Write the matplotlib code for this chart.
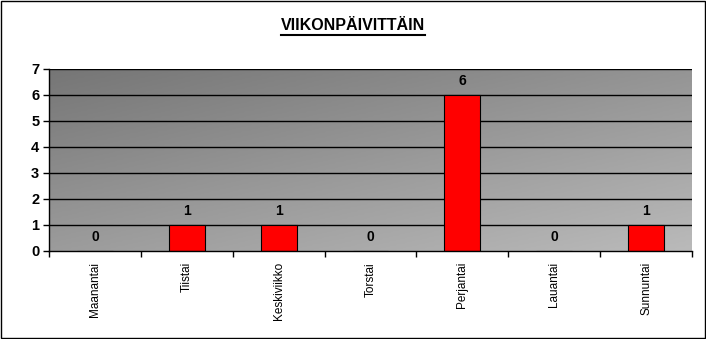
import matplotlib
matplotlib.use("Agg")
import matplotlib.pyplot as plt
import numpy as np
from matplotlib.patches import Rectangle

categories = ["Maanantai", "Tiistai", "Keskiviikko", "Torstai", "Perjantai", "Lauantai", "Sunnuntai"]
values = [0, 1, 1, 0, 6, 0, 1]
yticks = [0, 1, 2, 3, 4, 5, 6, 7]
title = "VIIKONPÄIVITTÄIN"

fig = plt.figure(figsize=(7.06, 3.39), dpi=100)
fig.patch.set_facecolor("white")
fig.add_artist(Rectangle((0.001, 0.002), 0.997, 0.995, transform=fig.transFigure,
                         fill=False, edgecolor="black", linewidth=1))

ax = fig.add_axes([49/706, 88/339, 643/706, 182/339])
n = len(categories)
x = np.arange(n)
ax.set_xlim(-0.5, n - 0.5)
ax.set_ylim(0, 7)

# gradient background
gx, gy = np.meshgrid(np.linspace(0, 1, 200), np.linspace(0, 1, 100))
g = (gx * 0.45 + gy * 0.55)
ax.imshow(g, extent=(-0.5, n - 0.5, 0, 7), origin="upper", aspect="auto",
          cmap=plt.cm.colors.LinearSegmentedColormap.from_list("g", ["#767676", "#bababa"]),
          vmin=0, vmax=1, zorder=0)

for yv in yticks[1:]:
    ax.axhline(yv, color="black", linewidth=1, zorder=1)

ax.bar(x, values, width=0.39, color="#ff0000", edgecolor="black", linewidth=0.8, zorder=2)
for xi, v in zip(x, values):
    ax.text(xi, v + 0.28, str(v), ha="center", va="bottom", fontsize=10, fontweight="bold",
            family="Liberation Sans", zorder=3)

ax.set_yticks(yticks)
ax.set_yticklabels([str(t) for t in yticks], fontsize=10.5, fontweight="bold", family="Liberation Sans")
ax.set_xticks(x)
ax.set_xticklabels(categories, rotation=90, fontsize=8.5, family="Liberation Sans")
ax.tick_params(axis="x", length=0, pad=8)
ax.set_xticks(np.arange(-0.5, n, 1), minor=True)
ax.tick_params(axis="x", which="minor", length=4, width=1, direction="out")
ax.tick_params(axis="y", length=4, width=1, direction="out", pad=3)
for s in ["top", "right"]:
    ax.spines[s].set_visible(False)
for s in ["left", "bottom"]:
    ax.spines[s].set_color("black")
    ax.spines[s].set_linewidth(1)

t = fig.text(0.5, 1 - 25/339, title, ha="center", va="center", fontsize=11.5, fontweight="bold",
             family="Liberation Sans")
fig.canvas.draw()
bb = t.get_window_extent()
fig.add_artist(plt.Line2D([bb.x0 / 706, bb.x1 / 706], [(bb.y0 - 2) / 339, (bb.y0 - 2) / 339],
                          color="black", linewidth=1.5, transform=fig.transFigure))

fig.savefig("out.png", dpi=100)
